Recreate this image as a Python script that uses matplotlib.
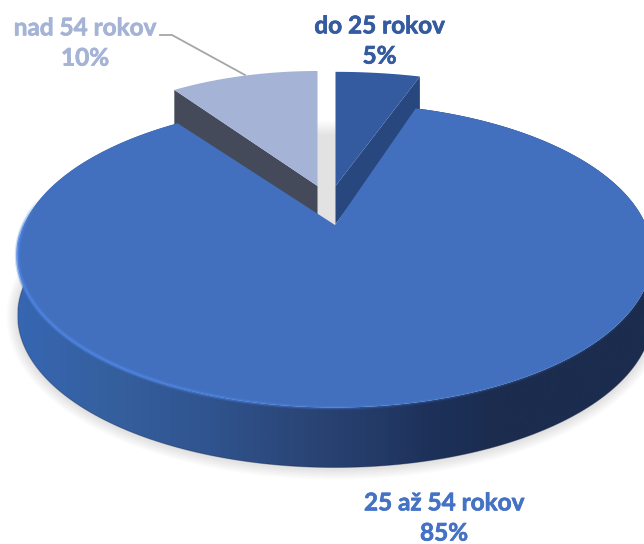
import matplotlib
matplotlib.use('Agg')
import matplotlib.pyplot as plt
import matplotlib.patheffects as pe
from matplotlib.collections import LineCollection
from matplotlib.colors import LinearSegmentedColormap, to_rgb
from matplotlib.patches import Polygon
import numpy as np

# data
categories = ["do 25 rokov", "25 až 54 rokov", "nad 54 rokov"]
shares = [5, 85, 10]

# style per slice: apex x/y, radii, depth, top colour, wall colour, label colour
cx_list = [335.5, 335, 317.5]
cy_list = [186, 225, 186]
rx_list = [325, 311, 283]
ry_list = [137, 146, 138]
depth_list = [38, 60, 40]
top_colors = ["#345a9f", "#4270be", "#a5b3d6"]
wall_colors = ["#28477e", None, "#444a5a"]
label_colors = ["#345a9f", "#4472c4", "#a5b3d6"]
label_pos = [(379.5, 41), (444, 518), (85, 43)]
persp = 0.2

plt.rcParams['font.family'] = ['Lato', 'DejaVu Sans']

fig = plt.figure(figsize=(6.44, 5.44), dpi=100)
ax = fig.add_axes([0, 0, 1, 1])


def project(i, t):
    # t = clockwise from top, radians; simple perspective on the circle
    u, v = np.sin(t), -np.cos(t)
    d = 1 - persp * v
    return cx_list[i] + rx_list[i] * u / d, cy_list[i] + ry_list[i] * v / d


bounds = np.cumsum([0] + shares) / sum(shares) * 2 * np.pi


def arc(i, n=300):
    t = np.linspace(bounds[i], bounds[i + 1], n)
    return np.column_stack(project(i, t))


# shadow under the big slice
t_sh = np.radians(np.linspace(60, 285, 200))
sx, sy = project(1, t_sh)
for lw in np.arange(22, 2, -3):
    ax.plot(sx, sy + depth_list[1] + 1, color="black", lw=lw * 0.72, alpha=0.014,
            solid_capstyle="round", zorder=1)

# grey gap between the small slices
gap = np.array([[1.0, 1.0, 1.0], to_rgb("#e2e2e2")])
gap_cmap = LinearSegmentedColormap.from_list("gap", gap)
im = ax.imshow(np.linspace(0, 1, 30).reshape(-1, 1), cmap=gap_cmap, aspect="auto",
               extent=(317, 336, 136, 120), zorder=2, origin="upper")
ax.add_patch(Polygon([(317, 136), (336, 136), (336, 230), (317, 230)], fc="#e2e2e2", ec="none", zorder=2))

# small slices, the wall is on the cut side that faces the viewer
for i, z in ((2, 3), (0, 4)):
    a = arc(i)
    apex = np.array([cx_list[i], cy_list[i]])
    d = np.array([0, depth_list[i]])
    corner = a[0] if i == 2 else a[-1]
    wall = [corner, apex, apex + d, corner + d]
    ax.add_patch(Polygon(wall, fc=wall_colors[i], ec="none", zorder=z))
    ax.add_patch(Polygon(np.vstack([apex, a]), fc=top_colors[i], ec="none", zorder=z + 0.1))

# big slice wall, gradient left to right
a = arc(1)
shift = np.array([0, depth_list[1]])
wall_path = Polygon(np.vstack([a, (a + shift)[::-1]]), fc="none", ec="none", transform=ax.transData)
ax.add_patch(wall_path)
wall_cmap = LinearSegmentedColormap.from_list(
    "wall", [(0, "#3766b2"), (0.14, "#35609f"), (0.3, "#30548f"), (0.46, "#2a4474"),
             (0.55, "#253c6a"), (0.65, "#1d315a"), (0.76, "#1b2c4e"), (1, "#1b2c4e")])
im = ax.imshow(np.linspace(0, 1, 400).reshape(1, -1), cmap=wall_cmap, aspect="auto",
               extent=(18, 652, 544, 0), zorder=5)
im.set_clip_path(wall_path)

# dark thin line at wall bottom
ax.plot(a[:, 0], a[:, 1] + depth_list[1], color="#14233f", lw=0.8, alpha=0.35, zorder=5.1)

# big slice top
ax.add_patch(Polygon(np.vstack([[cx_list[1], cy_list[1]], a]), fc=top_colors[1], ec="none", zorder=6))

# bevel on the rim, bright on the left, fading out at both ends
t_rim = np.radians(np.linspace(100, 280, 500))
rx_, ry_ = project(1, t_rim)
pts = np.column_stack([rx_, ry_]).reshape(-1, 1, 2)
segs = np.concatenate([pts[:-1], pts[1:]], axis=1)
mid_deg = np.degrees(t_rim[:-1])
rim_alpha = np.interp(mid_deg, [100, 180, 215, 265, 280], [0, 0.3, 0.9, 0.9, 0])
for lw, k in ((4.0, 0.3), (2.2, 0.9)):
    cols = [(*to_rgb("#4c82e0"), al * k) for al in rim_alpha]
    ax.add_collection(LineCollection(segs, colors=cols, linewidths=lw, zorder=6.2, capstyle="butt"))

# labels, a thin stroke to get the weight of the original bold
for i, cat in enumerate(categories):
    x, y = label_pos[i]
    t = ax.text(x, y, f"{cat}\n{shares[i]}%", color=label_colors[i], fontsize=17.5, fontweight="bold",
                ha="center", va="center", linespacing=1.38, zorder=8)
    t.set_path_effects([pe.withStroke(linewidth=0.5, foreground=label_colors[i])])

# leader line
ax.plot([160, 172, 245], [35, 35, 75], color="#a6a6a6", lw=1.3, zorder=7)

ax.set_xlim(0, 644)
ax.set_ylim(544, 0)
ax.axis("off")

plt.savefig("out.png", dpi=100)
